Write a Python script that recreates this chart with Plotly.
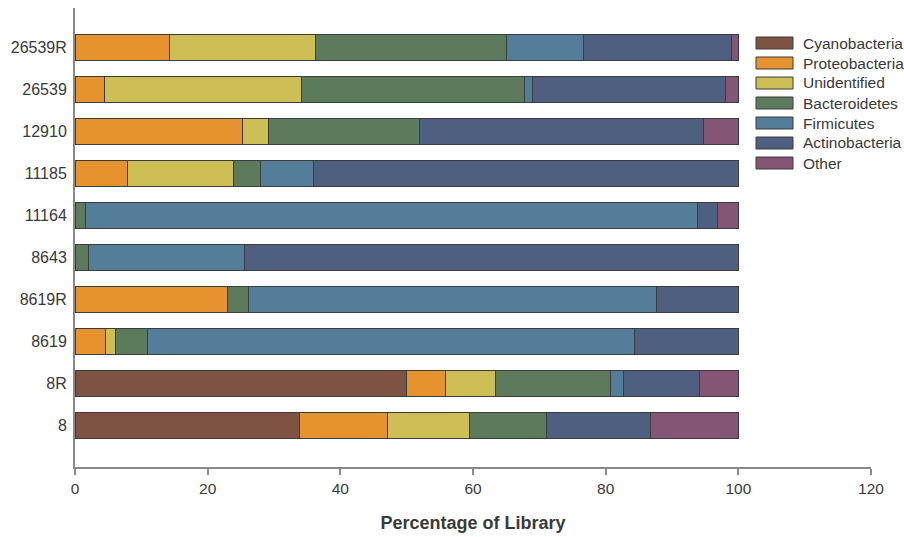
import plotly.graph_objects as go

# Libraries, listed bottom to top
libraries = ["8", "8R", "8619", "8619R", "8643", "11164", "11185", "12910", "26539", "26539R"]

# Percentage of each library assigned to each phylum
cyanobacteria  = [33.9, 50.0, 0.0, 0.0, 0.0, 0.0, 0.0, 0.0, 0.0, 0.0]
proteobacteria = [13.2, 5.8, 4.6, 23.0, 0.0, 0.0, 7.9, 25.3, 4.4, 14.2]
unidentified   = [12.4, 7.6, 1.5, 0.0, 0.0, 0.0, 16.0, 3.9, 29.7, 22.1]
bacteroidetes  = [11.6, 17.4, 4.8, 3.2, 2.0, 1.6, 4.1, 22.8, 33.7, 28.7]
firmicutes     = [0.0, 1.9, 73.4, 61.5, 23.5, 92.3, 7.9, 0.0, 1.1, 11.7]
actinobacteria = [15.6, 11.4, 15.7, 12.3, 74.5, 3.0, 64.1, 42.7, 29.2, 22.2]
other          = [13.3, 5.9, 0.0, 0.0, 0.0, 3.1, 0.0, 5.3, 1.9, 1.1]

phyla = ["Cyanobacteria", "Proteobacteria", "Unidentified", "Bacteroidetes",
         "Firmicutes", "Actinobacteria", "Other"]
series = [cyanobacteria, proteobacteria, unidentified, bacteroidetes,
          firmicutes, actinobacteria, other]
colors = ["#7e5343", "#e5922f", "#cdbf56", "#5c7b5c", "#537d98", "#4f5f80", "#855575"]

x_ticks = [0, 20, 40, 60, 80, 100, 120]

FONT = "Liberation Sans, Arial, sans-serif"

fig = go.Figure()
for name, vals, col in zip(phyla, series, colors):
    fig.add_trace(go.Bar(
        y=libraries, x=vals, name=name, orientation="h",
        marker=dict(color=col, line=dict(color="#3c3c3c", width=1)),
        width=0.62, showlegend=False,
    ))

# Legend: wide colour swatches with labels, top right
L, R, B, T = 75, 871, 467, 8
def px_x(p):
    return (p - L) / (R - L)
def px_y(p):
    return (B - p) / (B - T)

shapes = []
annotations = []
for i, (name, col) in enumerate(zip(phyla, colors)):
    cy = 43 + i * 20
    shapes.append(dict(type="rect", xref="paper", yref="paper",
                       x0=px_x(756), x1=px_x(793), y0=px_y(cy + 6), y1=px_y(cy - 6),
                       fillcolor=col, line=dict(color="#3c3c3c", width=1)))
    annotations.append(dict(xref="paper", yref="paper", x=px_x(801), y=px_y(cy),
                            xanchor="left", yanchor="middle", text=name, showarrow=False,
                            font=dict(family=FONT, size=15.5, color="#3a3a3a")))

fig.update_layout(
    barmode="stack",
    width=904, height=537,
    margin=dict(l=L, r=904 - R, t=T, b=537 - B),
    paper_bgcolor="white", plot_bgcolor="white",
    font=dict(family=FONT, color="#3a3a3a"),
    bargap=0.38,
    shapes=shapes,
    annotations=annotations,
    xaxis=dict(
        range=[0, 120], tickvals=x_ticks, ticktext=[str(v) for v in x_ticks],
        showgrid=False, zeroline=False,
        showline=True, linecolor="#8a8a8a", linewidth=2,
        ticks="outside", ticklen=6, tickcolor="#8a8a8a", tickwidth=1.5,
        tickfont=dict(size=15.5, family=FONT, color="#3a3a3a"),
        title=dict(text="<b>Percentage of Library</b>", standoff=21,
                   font=dict(size=18, family=FONT, color="#3a3a3a")),
    ),
    yaxis=dict(
        type="category", range=[-1, 9.95],
        showgrid=False, zeroline=False,
        showline=True, linecolor="#8a8a8a", linewidth=2,
        ticks="", ticklabelstandoff=3,
        tickfont=dict(size=16, family=FONT, color="#3a3a3a"),
    ),
)

fig.write_html("out.html")
